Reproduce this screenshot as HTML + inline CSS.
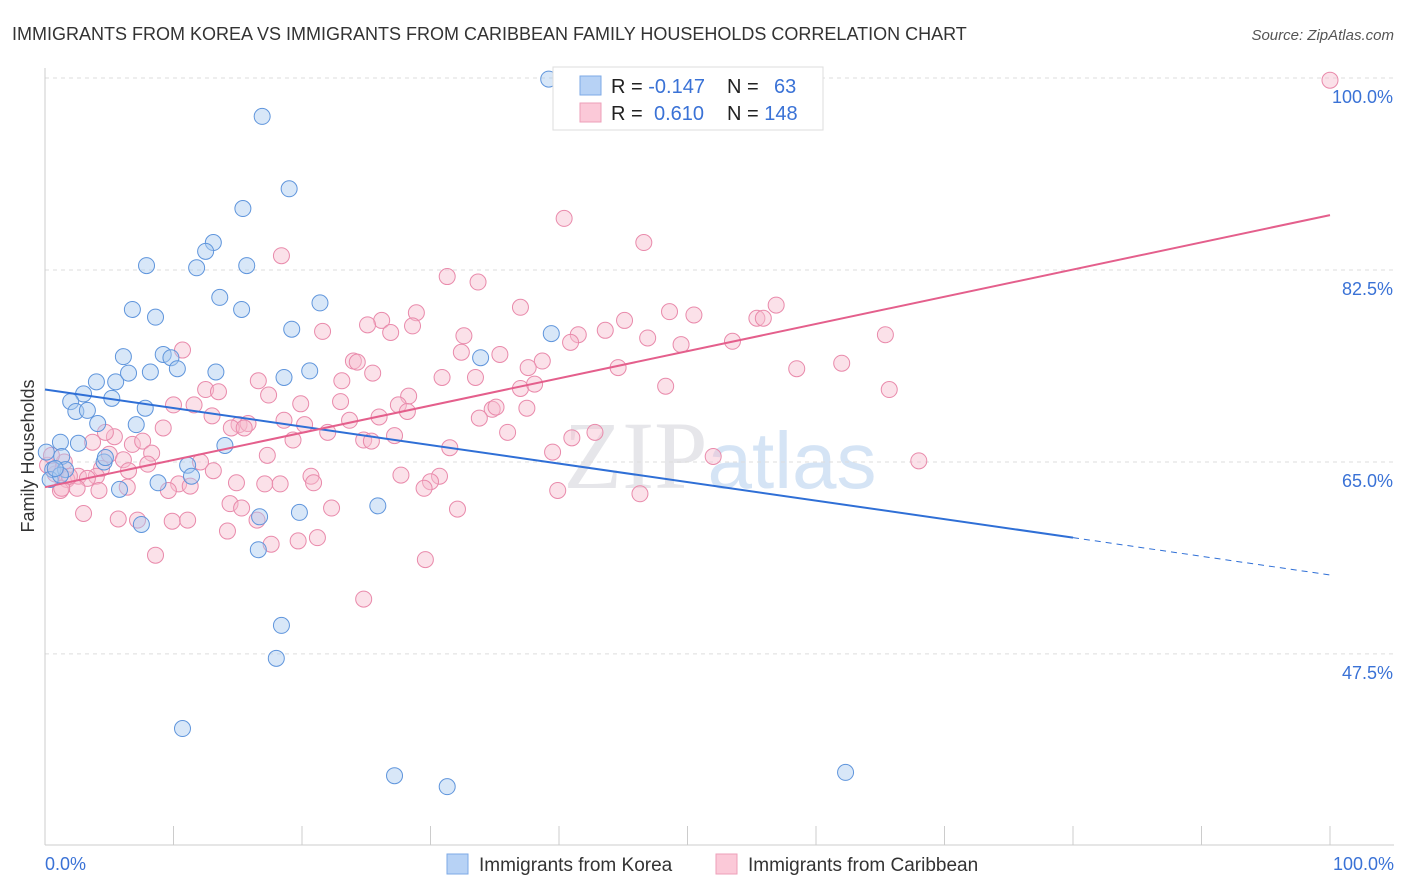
<!DOCTYPE html>
<html><head><meta charset="utf-8">
<style>
body{margin:0;background:#fff;font-family:"Liberation Sans",sans-serif;}
svg{display:block}
</style></head>
<body>
<svg id="chart" width="1406" height="892" xmlns="http://www.w3.org/2000/svg">
<text x="12" y="40" font-size="18" fill="#333">IMMIGRANTS FROM KOREA VS IMMIGRANTS FROM CARIBBEAN FAMILY HOUSEHOLDS CORRELATION CHART</text>
<text x="1394" y="40" font-size="15" fill="#555" font-style="italic" text-anchor="end">Source: ZipAtlas.com</text>
<text x="720" y="488" font-size="96" fill="#e6e6ea" text-anchor="middle" font-family="Liberation Serif,serif">ZIP<tspan fill="#d5e4f5" font-family="Liberation Sans,sans-serif" font-size="80">atlas</tspan></text>
<g id="grid"></g>
<g id="axes"></g>
<g id="marks"></g>
<text transform="translate(34,456) rotate(-90)" font-size="18" fill="#333" text-anchor="middle">Family Households</text>
<g>
<rect x="553" y="67" width="270" height="63" fill="#fff" stroke="#ddd"/>
<rect x="580" y="76" width="21" height="19" fill="#b7d2f5" stroke="#7eaae6"/>
<rect x="580" y="103" width="21" height="19" fill="#fbc9d8" stroke="#ee9fb9"/>
<text x="611" y="93" font-size="20" fill="#222">R = <tspan fill="#3a72d6">-0.147</tspan></text>
<text x="727" y="93" font-size="20" fill="#222">N = <tspan fill="#3a72d6" x="774">63</tspan></text>
<text x="611" y="120" font-size="20" fill="#222">R = <tspan fill="#3a72d6" x="654">0.610</tspan></text>
<text x="727" y="120" font-size="20" fill="#222">N = <tspan fill="#3a72d6">148</tspan></text>
</g>
<g>
<rect x="447" y="854" width="21" height="20" fill="#b7d2f5" stroke="#7eaae6"/>
<text x="479" y="871" font-size="19" fill="#333">Immigrants from Korea</text>
<rect x="716" y="854" width="21" height="20" fill="#fbc9d8" stroke="#ee9fb9"/>
<text x="748" y="871" font-size="19" fill="#333">Immigrants from Caribbean</text>
</g>
</svg>
<script>
const yTicks=[100,82.5,65,47.5];
const yTickLabels=["100.0%","82.5%","65.0%","47.5%"];
const xTickLabels=["0.0%","100.0%"];
const koreaX=[39.2,16.9,19.0,15.4,13.1,12.5,7.9,11.8,15.7,13.6,21.4,6.8,15.3,8.6,19.2,39.4,9.2,6.1,9.8,10.3,8.2,13.3,18.6,20.6,33.9,4.0,5.5,6.5,3.0,5.2,2.0,7.8,2.4,3.3,4.1,7.1,14.0,1.2,2.6,0.1,1.3,4.6,4.7,11.1,0.6,1.6,11.4,0.4,8.8,5.8,16.7,7.5,19.8,25.9,16.6,18.4,18.0,10.7,27.2,31.3,62.3,1.2,0.8];
const koreaY=[99.9,96.5,89.9,88.1,85.0,84.2,82.9,82.7,82.9,80.0,79.5,78.9,78.9,78.2,77.1,76.7,74.8,74.6,74.5,73.5,73.2,73.2,72.7,73.3,74.5,72.3,72.3,73.1,71.2,70.8,70.5,69.9,69.6,69.7,68.5,68.4,66.5,66.8,66.7,65.9,65.5,65.0,65.4,64.7,64.3,64.3,63.7,63.4,63.1,62.5,60.0,59.3,60.4,61.0,57.0,50.1,47.1,40.7,36.4,35.4,36.7,63.8,64.4];
const caribX=[100,40.4,46.6,18.4,31.3,33.7,37.0,48.6,56.9,50.5,55.4,55.9,45.1,28.9,26.2,25.1,28.6,26.9,21.6,32.6,43.6,41.5,40.9,46.9,65.4,49.5,53.5,10.7,32.4,35.4,38.7,24.0,24.3,44.6,58.5,62.0,37.6,25.5,30.9,33.5,16.6,23.1,48.3,65.7,12.5,13.5,17.4,37.0,38.1,28.3,27.5,10.0,11.6,19.9,23.0,34.8,35.1,37.5,28.2,13.0,26.0,15.1,15.8,23.7,33.8,9.2,14.5,15.5,22.0,20.2,18.6,36.0,5.4,4.7,6.8,7.6,42.8,41.0,24.8,27.2,25.4,3.7,19.3,31.5,8.3,39.5,52.0,68.0,5.0,6.1,8.0,17.3,12.1,1.5,4.4,0.8,2.6,6.5,13.1,27.7,30.7,20.7,4.0,3.3,1.7,20.9,10.4,11.3,14.9,17.1,18.3,30.0,29.5,1.2,2.5,4.2,6.4,9.6,39.9,46.3,14.4,15.3,32.1,22.3,3.0,5.7,7.2,9.9,11.1,14.2,16.5,17.6,19.7,21.2,8.6,29.6,24.8,1.3,1.9,0.2,0.5];
const caribY=[99.8,87.2,85.0,83.8,81.9,81.4,79.1,78.7,79.3,78.4,78.1,78.1,77.9,78.6,77.9,77.5,77.4,76.8,76.9,76.5,77.0,76.6,75.9,76.3,76.6,75.7,76.0,75.2,75.0,74.8,74.2,74.2,74.1,73.6,73.5,74.0,73.6,73.1,72.7,72.7,72.4,72.4,71.9,71.6,71.6,71.4,71.1,71.7,72.1,71.0,70.2,70.2,70.2,70.3,70.5,69.8,70.0,69.9,69.6,69.2,69.1,68.4,68.5,68.8,69.0,68.1,68.1,68.1,67.7,68.4,68.8,67.7,67.3,67.7,66.6,66.9,67.7,67.2,67.0,67.4,66.9,66.8,67.0,66.3,65.8,65.9,65.5,65.1,65.7,65.2,64.8,65.6,65.0,65.0,64.4,63.9,63.7,64.2,64.2,63.8,63.7,63.7,63.7,63.5,63.4,63.1,63.0,62.8,63.1,63.0,63.0,63.2,62.6,62.4,62.6,62.4,62.7,62.4,62.4,62.1,61.2,60.8,60.7,60.8,60.3,59.8,59.7,59.6,59.7,58.7,59.7,57.5,57.8,58.1,56.5,56.1,52.5,62.6,63.7,64.7,65.6];
const koreaTrend=[71.6,58.1,54.7];   // y at x=0, x=80, x=100
const caribTrend=[62.7,87.5];        // y at x=0, x=100

const NS="http://www.w3.org/2000/svg";
const X0=45,X1=1330,YTOP=78,PPU=10.97;
const sx=v=>X0+(X1-X0)*v/100;
const sy=v=>YTOP+(100-v)*PPU;
function mk(tag,attrs,parent){const e=document.createElementNS(NS,tag);for(const k in attrs)e.setAttribute(k,attrs[k]);parent.appendChild(e);return e;}
const grid=document.getElementById('grid'),axes=document.getElementById('axes'),marks=document.getElementById('marks');
yTicks.forEach((t,i)=>{
  const l=mk('line',{x1:45,x2:1394,y1:sy(t),y2:sy(t),stroke:'#ddd','stroke-dasharray':'4,4'},grid);
  
  
  const tx=mk('text',{x:1393,y:sy(t)+25,'font-size':18,fill:'#3a72d6','text-anchor':'end'},axes);
  tx.textContent=yTickLabels[i];
  
  
});
const ax=mk('line',{x1:45,x2:1394,y1:845,y2:845,stroke:'#ccc'},axes);


const ay=mk('line',{x1:45,x2:45,y1:68,y2:845,stroke:'#ccc'},axes);


for(let i=0;i<=10;i++){
  const t=mk('line',{x1:sx(i*10),x2:sx(i*10),y1:826,y2:845,stroke:'#ccc'},axes);
  
  
}
[[0,'start',45],[100,'end',1394]].forEach((d,i)=>{
  const t=mk('text',{x:d[2],y:870,'font-size':18,fill:'#3a72d6','text-anchor':d[1]},axes);
  t.textContent=xTickLabels[i];
  
  
});
function pts(xs,ys,fill,stroke,name){
  xs.forEach((x,i)=>{
    const c=mk('circle',{cx:sx(x),cy:sy(ys[i]),r:8,fill:fill,'fill-opacity':0.45,stroke:stroke,'stroke-width':1},marks);
    
    
  });
}
pts(caribX,caribY,'#f7bccf','#e98aab','caribbean-point');
pts(koreaX,koreaY,'#a9c9f0','#5f95dc','korea-point');
const kl=mk('line',{x1:sx(0),y1:sy(koreaTrend[0]),x2:sx(80),y2:sy(koreaTrend[1]),stroke:'#2f6fd6','stroke-width':2},marks);


const kd=mk('line',{x1:sx(80),y1:sy(koreaTrend[1]),x2:sx(100),y2:sy(koreaTrend[2]),stroke:'#2f6fd6','stroke-width':1,'stroke-dasharray':'6,5'},marks);


const cl=mk('line',{x1:sx(0),y1:sy(caribTrend[0]),x2:sx(100),y2:sy(caribTrend[1]),stroke:'#e45f8c','stroke-width':2},marks);


</script>
</body></html>
